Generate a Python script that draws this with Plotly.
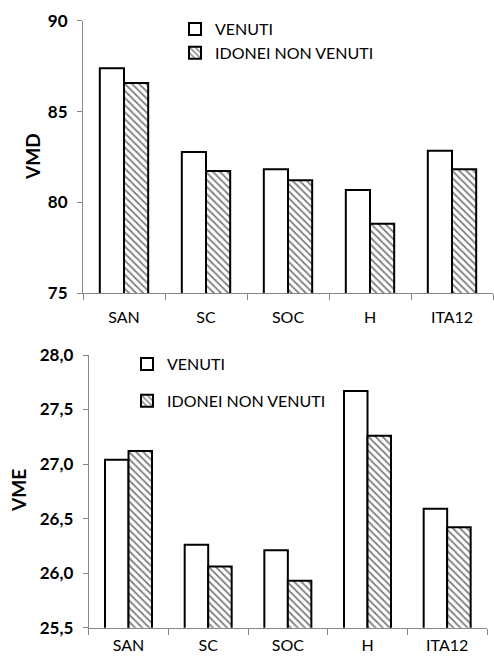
import plotly.graph_objects as go

categories = ["SAN", "SC", "SOC", "H", "ITA12"]
vmd_venuti = [87.38, 82.77, 81.82, 80.68, 82.85]
vmd_idonei = [86.57, 81.73, 81.22, 78.83, 81.82]
vme_venuti = [27.04, 26.26, 26.21, 27.67, 26.59]
vme_idonei = [27.12, 26.06, 25.93, 27.26, 26.42]

FONT = "Lato"
W, H = 494, 658

fig = go.Figure()

def add_pair(v1, v2, xa, ya, leg):
    fig.add_trace(go.Bar(
        x=categories, y=v1, name="VENUTI", xaxis=xa, yaxis=ya, legend=leg,
        legendgroup=leg + "a",
        marker=dict(color="white", line=dict(color="black", width=2)),
    ))
    fig.add_trace(go.Bar(
        x=categories, y=v2, name="IDONEI NON VENUTI", xaxis=xa, yaxis=ya, legend=leg,
        legendgroup=leg + "b",
        marker=dict(color="white", line=dict(color="black", width=2),
                    pattern=dict(shape="\\", fgcolor="black", bgcolor="white",
                                 size=5, solidity=0.35)),
    ))

add_pair(vmd_venuti, vmd_idonei, "x", "y", "legend")
add_pair(vme_venuti, vme_idonei, "x2", "y2", "legend2")

xcommon = dict(type="category", showline=True, linecolor="#868686", linewidth=1,
               ticks="outside", tickson="boundaries", ticklen=6, tickcolor="#868686",
               tickfont=dict(family=FONT, size=16, color="black"), showgrid=False,
               automargin=False, fixedrange=True)
ycommon = dict(showline=True, linecolor="#868686", linewidth=1, ticks="outside",
               ticklen=5, tickcolor="#868686", showgrid=False, zeroline=False,
               tickfont=dict(family=FONT, size=17, color="black", weight="bold"),
               ticklabelstandoff=6, automargin=False, fixedrange=True)

fig.update_layout(
    width=W, height=H,
    margin=dict(l=0, r=0, t=0, b=0),
    paper_bgcolor="white", plot_bgcolor="white",
    barmode="group", bargap=0.41, bargroupgap=0,
    separators=",.",
    xaxis=dict(domain=[83 / W, 493 / W], anchor="y", ticklabelstandoff=9, **xcommon),
    yaxis=dict(domain=[1 - 293.3 / H, 1 - 20.7 / H], anchor="x", range=[75, 90],
               dtick=5, **ycommon),
    xaxis2=dict(domain=[88.7 / W, 487 / W], anchor="y2", ticklabelstandoff=3, **xcommon),
    yaxis2=dict(domain=[1 - 627.7 / H, 1 - 355 / H], anchor="x2", range=[25.5, 28.0],
                dtick=0.5, tickformat=".1f", **ycommon),
    legend=dict(x=175 / W, y=1 - 12 / H, xanchor="left", yanchor="top",
                font=dict(family=FONT, size=16, color="black"),
                tracegroupgap=0, bgcolor="rgba(0,0,0,0)", itemwidth=30),
    legend2=dict(x=127 / W, y=1 - 347 / H, xanchor="left", yanchor="top",
                 font=dict(family=FONT, size=16, color="black"),
                 tracegroupgap=13, bgcolor="rgba(0,0,0,0)", itemwidth=30),
    annotations=[
        dict(text="<b>VMD</b>", x=32 / W, y=1 - 157 / H, xref="paper", yref="paper",
             xanchor="center", yanchor="middle",
             textangle=-90, showarrow=False, font=dict(family=FONT, size=19, color="black")),
        dict(text="<b>VME</b>", x=18 / W, y=1 - 491 / H, xref="paper", yref="paper",
             xanchor="center", yanchor="middle",
             textangle=-90, showarrow=False, font=dict(family=FONT, size=19, color="black")),
    ],
)

fig.write_html("out.html", config={"displayModeBar": False},
               post_script="document.body.style.margin='0';")
